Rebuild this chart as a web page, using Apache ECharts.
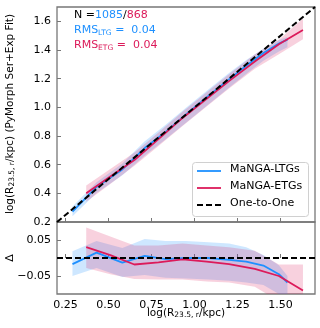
<!DOCTYPE html>
<html>
<head>
<meta charset="utf-8">
<script src="https://cdn.jsdelivr.net/npm/echarts@6.0.0/dist/echarts.min.js"></script>
<style>
  html, body { margin: 0; padding: 0; background: #fff; }
  #chart { width: 320px; height: 328px; }
</style>
</head>
<body>
<div id="chart"></div>
<script>
// values
const xTicks = [0.25, 0.5, 0.75, 1.0, 1.25, 1.5];
const yTicks = [0.2, 0.4, 0.6, 0.8, 1.0, 1.2, 1.4, 1.6];
const dTicks = [-0.05, 0.05];
const oneToOne = [[0.2, 0.2], [1.7, 1.7]];

// LTG: binned median and spread
const ltgX   = [0.29, 0.43, 0.58, 0.71, 0.83, 0.95, 1.08, 1.20, 1.30, 1.40, 1.49, 1.54];
const ltgY   = [0.273, 0.445, 0.567, 0.716, 0.827, 0.950, 1.080, 1.195, 1.290, 1.379, 1.445, 1.472];
const ltgYlo = [0.240, 0.402, 0.527, 0.663, 0.775, 0.893, 1.020, 1.137, 1.232, 1.325, 1.390, 1.420];
const ltgYhi = [0.309, 0.477, 0.608, 0.763, 0.877, 0.997, 1.124, 1.240, 1.330, 1.408, 1.470, 1.490];
const ltgD   = [-0.017, 0.015, -0.013, 0.006, -0.003, 0.0, 0.0, -0.005, -0.010, -0.021, -0.045, -0.068];
const ltgDlo = [-0.050, -0.028, -0.053, -0.047, -0.055, -0.057, -0.060, -0.063, -0.068, -0.075, -0.100, -0.120];
const ltgDhi = [0.019, 0.047, 0.028, 0.053, 0.047, 0.047, 0.044, 0.040, 0.030, 0.008, -0.020, -0.050];

// ETG
const etgX   = [0.37, 0.51, 0.65, 0.79, 0.93, 1.07, 1.20, 1.35, 1.49, 1.63];
const etgY   = [0.400, 0.518, 0.632, 0.778, 0.926, 1.060, 1.183, 1.320, 1.440, 1.540];
const etgYlo = [0.342, 0.465, 0.592, 0.730, 0.870, 1.005, 1.132, 1.270, 1.370, 1.475];
const etgYhi = [0.455, 0.570, 0.685, 0.825, 0.970, 1.105, 1.230, 1.370, 1.472, 1.620];
const etgD   = [0.030, 0.008, -0.018, -0.012, -0.004, -0.010, -0.017, -0.030, -0.050, -0.090];
const etgDlo = [-0.028, -0.045, -0.058, -0.060, -0.060, -0.065, -0.068, -0.080, -0.120, -0.155];
const etgDhi = [0.085, 0.060, 0.035, 0.035, 0.040, 0.035, 0.030, 0.020, -0.018, -0.018];

const blue = '#1E90FF';
const red = '#DC1A5A';
const blueBand = 'rgba(30,144,255,0.22)';
const redBand = 'rgba(220,26,90,0.20)';
const font = 'DejaVu Sans';
const spine = '#777';

let chart = echarts.init(document.getElementById('chart'), null, { renderer: 'canvas' });

function pairs(xs, ys) {
  return xs.map((x, i) => [x, ys[i]]);
}

// fill between lo and hi as one polygon
function band(xs, lo, hi, color, idx) {
  return {
    type: 'custom',
    xAxisIndex: idx, yAxisIndex: idx,
    clip: true,
    z: 1,
    data: xs.map((x, i) => [x, lo[i], hi[i]]),
    renderItem: function (params, api) {
      if (params.dataIndex !== 0) return;
      let pts = [];
      for (let i = 0; i < xs.length; i++) pts.push(api.coord([xs[i], hi[i]]));
      for (let i = xs.length - 1; i >= 0; i--) pts.push(api.coord([xs[i], lo[i]]));
      let cs = params.coordSys;
      return {
        type: 'polygon',
        shape: { points: pts },
        style: { fill: color },
        clipPath: { type: 'rect', shape: { x: cs.x, y: cs.y, width: cs.width, height: cs.height } }
      };
    }
  };
}

function line(xs, ys, color, idx) {
  return {
    type: 'line', xAxisIndex: idx, yAxisIndex: idx,
    data: pairs(xs, ys), showSymbol: false, clip: true, z: 3,
    lineStyle: { color: color, width: 1.8 }
  };
}

const fmtD = v => (v < 0 ? '\u2212' + Math.abs(v).toFixed(2) : v.toFixed(2));
const tickStyle = { inside: true, length: 4, lineStyle: { color: spine, width: 1 } };

// rich styles for graphic text (zrender uses fill)
function txt(size, color) {
  return { fontSize: size, fontFamily: font, fill: color };
}
function subTxt(color) {
  return { fontSize: 7.5, fontFamily: font, fill: color, verticalAlign: 'bottom', padding: [5, 0, 0, 0] };
}

let option = {
  animation: false,
  backgroundColor: '#fff',
  grid: [
    { left: 57, top: 7, width: 258, height: 215, show: true, borderColor: spine, borderWidth: 1.3, outerBoundsMode: 'none' },
    { left: 57, top: 222, width: 258, height: 72, show: true, borderColor: spine, borderWidth: 1.3, outerBoundsMode: 'none' }
  ],
  xAxis: [
    { gridIndex: 0, type: 'value', min: 0.2, max: 1.7,
      axisLine: { show: false }, splitLine: { show: false },
      axisTick: Object.assign({ customValues: xTicks }, tickStyle),
      axisLabel: { show: false } },
    { gridIndex: 1, type: 'value', min: 0.2, max: 1.7,
      axisLine: { show: false }, splitLine: { show: false },
      axisTick: Object.assign({ customValues: xTicks }, tickStyle),
      axisLabel: { customValues: xTicks, formatter: v => v.toFixed(2), margin: 6,
        color: '#000', fontSize: 11, fontFamily: font } }
  ],
  yAxis: [
    { gridIndex: 0, type: 'value', min: 0.2, max: 1.7,
      axisLine: { show: false }, splitLine: { show: false },
      axisTick: Object.assign({ customValues: yTicks }, tickStyle),
      axisLabel: { customValues: yTicks, formatter: v => v.toFixed(1), margin: 6,
        color: '#000', fontSize: 11, fontFamily: font } },
    { gridIndex: 1, type: 'value', min: -0.1, max: 0.1,
      axisLine: { show: false }, splitLine: { show: false },
      axisTick: Object.assign({ customValues: dTicks }, tickStyle),
      axisLabel: { customValues: dTicks, formatter: fmtD, margin: 6,
        color: '#000', fontSize: 11, fontFamily: font } }
  ],
  series: [
    band(ltgX, ltgYlo, ltgYhi, blueBand, 0),
    band(etgX, etgYlo, etgYhi, redBand, 0),
    band(ltgX, ltgDlo, ltgDhi, blueBand, 1),
    band(etgX, etgDlo, etgDhi, redBand, 1),
    line(ltgX, ltgY, blue, 0),
    line(etgX, etgY, red, 0),
    line(ltgX, ltgD, blue, 1),
    line(etgX, etgD, red, 1),
    { type: 'line', xAxisIndex: 0, yAxisIndex: 0, data: oneToOne, showSymbol: false, z: 4,
      lineStyle: { color: '#000', width: 2, type: [6, 3] } },
    { type: 'line', xAxisIndex: 1, yAxisIndex: 1, data: [[0.2, 0], [1.7, 0]], showSymbol: false, z: 4,
      lineStyle: { color: '#000', width: 2, type: [6, 3] } }
  ],
  graphic: [
    // annotations
    { type: 'text', left: 74, top: 10, z: 10,
      style: { text: '{k|N =}{b|1085}{k|/}{r|868}',
        rich: { k: txt(11, '#000'), b: txt(11, blue), r: txt(11, red) } } },
    { type: 'text', left: 74, top: 25, z: 10,
      style: { text: '{a|RMS}{s|LTG}{a| =  0.04}',
        rich: { a: txt(11, blue), s: subTxt(blue) } } },
    { type: 'text', left: 74, top: 40, z: 10,
      style: { text: '{a|RMS}{s|ETG}{a| =  0.04}',
        rich: { a: txt(11, red), s: subTxt(red) } } },
    // legend
    { type: 'rect', z: 10, shape: { x: 192.5, y: 162.5, width: 116, height: 54, r: 3 },
      style: { fill: 'rgba(255,255,255,0.85)', stroke: '#d0d0d0', lineWidth: 1 } },
    { type: 'line', z: 11, shape: { x1: 197, y1: 171, x2: 221, y2: 171 }, style: { stroke: blue, lineWidth: 1.8 } },
    { type: 'line', z: 11, shape: { x1: 197, y1: 188, x2: 221, y2: 188 }, style: { stroke: red, lineWidth: 1.8 } },
    { type: 'line', z: 11, shape: { x1: 197, y1: 205, x2: 221, y2: 205 }, style: { stroke: '#000', lineWidth: 2, lineDash: [6, 3] } },
    { type: 'text', z: 11, left: 230, top: 164, style: { text: 'MaNGA-LTGs', font: '11px "DejaVu Sans"', fill: '#000' } },
    { type: 'text', z: 11, left: 230, top: 181, style: { text: 'MaNGA-ETGs', font: '11px "DejaVu Sans"', fill: '#000' } },
    { type: 'text', z: 11, left: 230, top: 198, style: { text: 'One-to-One', font: '11px "DejaVu Sans"', fill: '#000' } },
    // axis titles
    { type: 'text', z: 10, x: 10, y: 114, rotation: Math.PI / 2,
      style: { text: '{a|log(R}{s|23.5, r}{a|/kpc) (PyMorph Ser+Exp Fit)}', align: 'center', verticalAlign: 'middle',
        rich: { a: txt(10.5, '#000'), s: subTxt('#000') } } },
    { type: 'text', z: 10, x: 10, y: 258, rotation: Math.PI / 2,
      style: { text: '\u0394', align: 'center', verticalAlign: 'middle', font: '11px "DejaVu Sans"', fill: '#000' } },
    { type: 'text', z: 10, x: 186, y: 313,
      style: { text: '{a|log(R}{s|23.5, r}{a|/kpc)}', align: 'center', verticalAlign: 'middle',
        rich: { a: txt(10.5, '#000'), s: subTxt('#000') } } }
  ]
};
chart.setOption(option);
</script>
</body>
</html>
